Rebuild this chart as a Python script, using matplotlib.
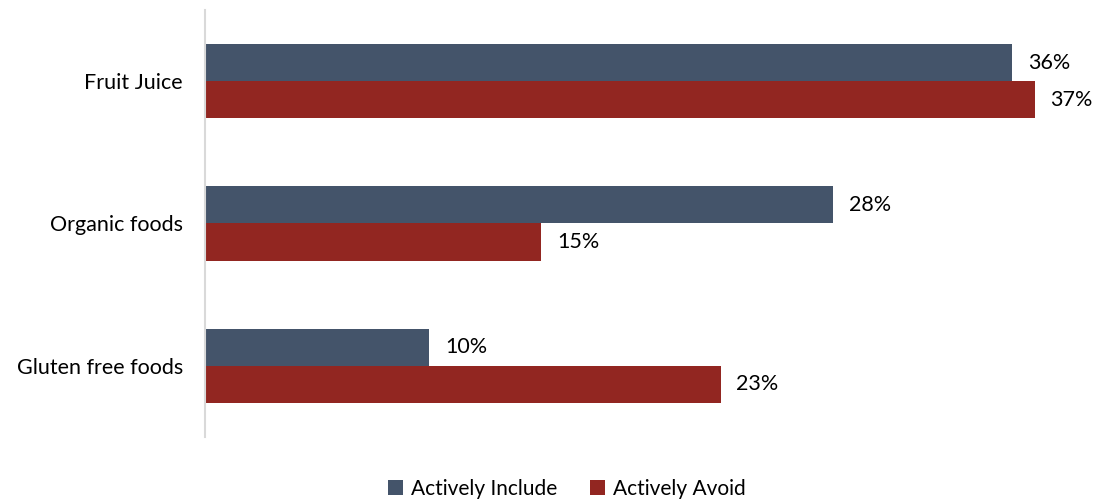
import matplotlib
matplotlib.use("Agg")
import matplotlib.pyplot as plt
import numpy as np

plt.rcParams['font.family'] = ['Lato', 'DejaVu Sans']

categories = ["Fruit Juice", "Organic foods", "Gluten free foods"]
include_vals = [36, 28, 10]
avoid_vals = [37, 15, 23]
series_names = ["Actively Include", "Actively Avoid"]
colors = ["#44546A", "#922621"]

W, H = 1096, 501
fig = plt.figure(figsize=(W / 100, H / 100), dpi=100)
ax = fig.add_axes([205 / W, 1 - 437 / H, (1090 - 205) / W, (437 - 10) / H])

y = np.arange(len(categories))
h = 0.26
b1 = ax.barh(y - h / 2, include_vals, height=h, color=colors[0], label=series_names[0])
b2 = ax.barh(y + h / 2, avoid_vals, height=h, color=colors[1], label=series_names[1])

for bars, vals in ((b1, include_vals), (b2, avoid_vals)):
    for rect, v in zip(bars, vals):
        ax.text(v + 0.7, rect.get_y() + rect.get_height() / 2, f"{v}%",
                va="center", ha="left", fontsize=15.5, color="#000000")

ax.set_xlim(0, 39.47)
ax.set_ylim(2.5, -0.5)
ax.set_yticks(y)
ax.set_yticklabels(categories, fontsize=15.5)
ax.tick_params(axis="y", length=0, pad=16)
ax.set_xticks([])
for s in ("top", "right", "bottom"):
    ax.spines[s].set_visible(False)
ax.spines["left"].set_color("#D9D9D9")
ax.spines["left"].set_linewidth(1.5)

fig.legend(handles=[b1, b2], labels=series_names, loc="center",
           bbox_to_anchor=(567 / W, 1 - 489 / H), ncol=2, frameon=False,
           fontsize=15, handlelength=0.7, handleheight=0.7, handletextpad=0.4,
           columnspacing=1.6)

fig.savefig("out.png", dpi=100)
